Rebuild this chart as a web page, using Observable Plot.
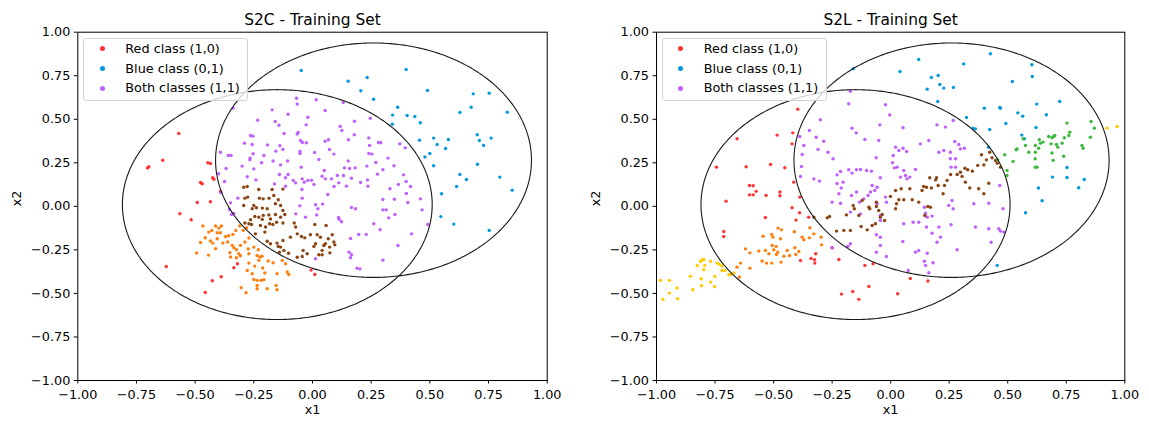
<!DOCTYPE html>
<html>
<head>
<meta charset="utf-8">
<script src="https://cdn.jsdelivr.net/npm/d3@7"></script>
<script src="https://cdn.jsdelivr.net/npm/@observablehq/plot@0.6"></script>
<style>
  html, body { margin: 0; padding: 0; background: #fff; }
  #wrap { position: relative; width: 1149px; height: 423px; overflow: hidden; background: #fff; font-family: "DejaVu Sans", sans-serif; }
  #wrap svg { position: absolute; top: 0; }
  .legend { position: absolute; width: 165px; height: 63px; box-sizing: border-box; border: 1px solid #d4d4d4; border-radius: 3px; background: rgba(255,255,255,0.8); font-size: 12.8px; color: #000; }
  .legend .row { position: absolute; left: 0; height: 16px; line-height: 16px; white-space: nowrap; }
  .legend .mk { position: absolute; left: 15.5px; top: 5.5px; width: 5px; height: 5px; border-radius: 50%; }
  .legend .tx { position: absolute; left: 41px; top: 0; }
</style>
</head>
<body>
<div id="wrap"></div>
<script>
// ---------- DATA ----------
const titles = ["S2C - Training Set", "S2L - Training Set"];
const axisLabels = ["x1", "x2"];
const tickValues = [-1, -0.75, -0.5, -0.25, 0, 0.25, 0.5, 0.75, 1];
const legendLabels = ["Red class (1,0)", "Blue class (0,1)", "Both classes (1,1)"];
const colors = { red: "#ff3333", blue: "#0099dd", purple: "#bf5fff", brown: "#8b4513", orange: "#ff7f0e", green: "#3cb93c", yellow: "#ffc800" };
// decision circles: [cx, cy, r]
const circleParams = [[-0.15, 0.01, 0.66], [0.26, 0.265, 0.673]];

const s2cRed = [[-0.570,0.419],[-0.638,0.265],[-0.697,0.227],[-0.703,0.220],[-0.446,0.250],[-0.435,0.246],[-0.477,0.137],[-0.470,0.130],[-0.425,0.164],[-0.420,0.155],[-0.392,0.087],[-0.491,0.022],[-0.435,0.026],[-0.565,-0.042],[-0.517,-0.077],[-0.623,-0.345],[-0.457,-0.494],[-0.427,-0.427],[-0.389,-0.404],[-0.335,-0.353],[-0.320,-0.330],[-0.006,-0.366],[0.010,-0.391]];

const s2cBlue = [[-0.048,0.780],[0.399,0.786],[0.152,0.719],[0.233,0.740],[0.206,0.664],[0.260,0.615],[0.490,0.665],[0.685,0.646],[0.753,0.650],[0.363,0.569],[0.628,0.539],[0.676,0.569],[0.830,0.541],[0.341,0.524],[0.403,0.522],[0.436,0.516],[0.459,0.480],[0.340,0.472],[0.456,0.380],[0.516,0.392],[0.531,0.355],[0.579,0.384],[0.567,0.332],[0.702,0.411],[0.711,0.378],[0.729,0.350],[0.761,0.392],[0.500,0.304],[0.479,0.283],[0.516,0.233],[0.703,0.242],[0.628,0.183],[0.656,0.154],[0.614,0.114],[0.798,0.168],[0.851,0.093],[0.550,0.072],[0.547,-0.059],[0.602,-0.102],[0.753,-0.138]];

const s2cPurple = [[-0.068,0.621],[-0.065,0.587],[0.016,0.612],[0.131,0.596],[-0.339,0.564],[-0.172,0.554],[-0.104,0.529],[-0.020,0.512],[0.054,0.550],[-0.234,0.495],[-0.159,0.487],[-0.143,0.466],[-0.027,0.468],[0.118,0.459],[0.125,0.436],[0.179,0.489],[0.246,0.506],[-0.121,0.418],[-0.065,0.415],[-0.061,0.424],[0.178,0.411],[-0.264,0.407],[-0.254,0.403],[-0.290,0.363],[-0.257,0.355],[-0.192,0.353],[-0.139,0.348],[-0.051,0.378],[-0.043,0.367],[-0.026,0.365],[0.054,0.374],[0.068,0.382],[0.153,0.382],[0.240,0.393],[0.243,0.349],[0.281,0.367],[0.291,0.365],[0.372,0.359],[0.395,0.336],[-0.392,0.311],[-0.359,0.292],[-0.347,0.292],[-0.253,0.302],[-0.207,0.292],[-0.156,0.317],[-0.126,0.327],[-0.053,0.315],[-0.053,0.304],[0.009,0.309],[0.072,0.327],[0.091,0.300],[0.240,0.304],[0.253,0.300],[-0.266,0.277],[-0.267,0.267],[-0.217,0.250],[-0.168,0.260],[-0.106,0.260],[0.027,0.269],[0.152,0.260],[0.270,0.252],[0.322,0.277],[0.347,0.233],[-0.368,0.217],[-0.300,0.231],[-0.250,0.215],[-0.136,0.238],[-0.048,0.225],[0.050,0.206],[0.136,0.221],[0.158,0.217],[0.182,0.221],[0.232,0.231],[0.300,0.210],[-0.400,0.187],[-0.278,0.170],[-0.241,0.152],[-0.141,0.183],[-0.104,0.183],[-0.115,0.164],[-0.082,0.149],[-0.072,0.135],[-0.044,0.158],[-0.035,0.139],[-0.020,0.149],[-0.004,0.150],[0.006,0.126],[0.041,0.173],[0.055,0.158],[0.081,0.158],[0.106,0.177],[0.132,0.177],[0.166,0.162],[0.205,0.137],[0.234,0.152],[0.236,0.116],[0.277,0.185],[0.388,0.181],[0.399,0.143],[0.418,0.114],[0.330,0.101],[0.366,0.126],[0.400,0.074],[-0.375,0.143],[-0.391,0.080],[-0.162,0.129],[-0.115,0.116],[-0.045,0.097],[0.092,0.114],[0.112,0.135],[0.145,0.116],[-0.318,0.047],[-0.044,0.047],[-0.054,0.003],[0.065,0.068],[0.013,0.009],[0.043,0.013],[0.023,-0.014],[0.166,-0.006],[0.183,-0.014],[0.300,0.039],[0.349,0.041],[0.406,0.022],[0.460,0.043],[0.300,-0.020],[0.314,-0.020],[0.325,-0.066],[0.351,-0.047],[0.467,-0.020],[0.111,-0.064],[0.114,-0.075],[0.018,-0.049],[0.261,-0.100],[0.491,-0.104],[0.422,-0.158],[0.162,-0.184],[0.197,-0.161],[0.229,-0.161],[0.156,-0.263],[0.166,-0.278],[0.364,-0.225],[0.300,-0.309],[0.190,-0.355],[0.202,-0.359],[0.013,-0.301],[-0.345,-0.047],[-0.354,-0.018],[-0.349,0.020],[-0.335,-0.041],[0.162,-0.295],[0.288,-0.134],[0.124,-0.088],[-0.071,-0.043],[-0.030,-0.062]];

const s2cBrown = [[-0.293,0.110],[-0.278,0.114],[-0.288,0.047],[-0.276,0.053],[-0.229,0.097],[-0.226,0.047],[-0.210,0.043],[-0.185,0.047],[-0.165,0.062],[-0.172,0.097],[-0.126,0.099],[-0.146,0.038],[-0.293,0.005],[-0.250,0.005],[-0.257,-0.014],[-0.239,-0.008],[-0.214,-0.010],[-0.193,-0.014],[-0.246,-0.058],[-0.264,-0.077],[-0.271,-0.100],[-0.260,-0.104],[-0.210,-0.052],[-0.186,-0.049],[-0.179,-0.072],[-0.158,-0.047],[-0.136,-0.062],[-0.118,-0.047],[-0.153,-0.091],[-0.169,-0.104],[-0.183,-0.100],[-0.126,-0.096],[-0.288,-0.096],[-0.222,-0.110],[-0.200,-0.119],[-0.203,-0.148],[-0.243,-0.158],[-0.078,-0.096],[-0.072,-0.119],[-0.094,-0.177],[-0.065,-0.158],[-0.047,-0.173],[-0.033,-0.181],[-0.009,-0.163],[0.010,-0.104],[0.058,-0.110],[0.020,-0.163],[0.034,-0.177],[0.055,-0.215],[0.067,-0.186],[0.084,-0.163],[0.091,-0.205],[0.095,-0.221],[0.073,-0.234],[0.048,-0.225],[0.013,-0.215],[0.006,-0.230],[0.027,-0.278],[0.041,-0.253],[-0.040,-0.253],[-0.023,-0.272],[-0.065,-0.292],[-0.044,-0.288],[-0.102,-0.269],[-0.122,-0.253],[-0.136,-0.234],[-0.151,-0.211],[-0.146,-0.230],[-0.193,-0.200],[-0.179,-0.215],[-0.126,-0.196],[-0.141,-0.263],[0.074,-0.267],[0.041,-0.278],[-0.214,-0.075],[-0.229,-0.062],[-0.158,0.015],[-0.136,0.005],[-0.126,-0.024]];

const s2cOrange = [[-0.467,-0.113],[-0.413,-0.113],[-0.399,-0.125],[-0.388,-0.113],[-0.429,-0.138],[-0.442,-0.148],[-0.406,-0.152],[-0.392,-0.152],[-0.457,-0.180],[-0.477,-0.207],[-0.435,-0.199],[-0.425,-0.211],[-0.406,-0.186],[-0.371,-0.173],[-0.357,-0.169],[-0.339,-0.161],[-0.327,-0.138],[-0.310,-0.113],[-0.295,-0.138],[-0.281,-0.123],[-0.494,-0.268],[-0.443,-0.280],[-0.413,-0.243],[-0.382,-0.211],[-0.361,-0.205],[-0.342,-0.224],[-0.335,-0.238],[-0.307,-0.224],[-0.288,-0.205],[-0.271,-0.182],[-0.314,-0.272],[-0.307,-0.284],[-0.324,-0.295],[-0.349,-0.291],[-0.352,-0.266],[-0.324,-0.249],[-0.274,-0.245],[-0.250,-0.234],[-0.231,-0.249],[-0.271,-0.272],[-0.236,-0.282],[-0.224,-0.291],[-0.215,-0.286],[-0.229,-0.310],[-0.271,-0.326],[-0.278,-0.368],[-0.246,-0.343],[-0.212,-0.354],[-0.189,-0.314],[-0.168,-0.324],[-0.203,-0.383],[-0.151,-0.387],[-0.257,-0.387],[-0.250,-0.420],[-0.236,-0.425],[-0.219,-0.425],[-0.207,-0.421],[-0.236,-0.454],[-0.236,-0.473],[-0.193,-0.473],[-0.304,-0.467],[-0.283,-0.496],[-0.155,-0.454],[-0.151,-0.479],[-0.108,-0.377],[-0.101,-0.391],[-0.129,-0.310],[-0.115,-0.330]];

const s2lRed = [[-0.397,0.558],[-0.418,0.422],[-0.421,0.359],[-0.485,0.409],[-0.513,0.241],[-0.617,0.227],[-0.656,0.388],[-0.744,0.225],[-0.703,0.030],[-0.603,0.120],[-0.587,0.118],[-0.603,0.066],[-0.587,0.066],[-0.574,0.086],[-0.532,0.063],[-0.473,0.082],[-0.473,0.061],[-0.414,0.139],[-0.388,0.053],[-0.421,-0.008],[-0.452,0.222],[-0.535,-0.064],[-0.389,-0.037],[-0.404,-0.079],[-0.350,-0.062],[-0.713,-0.144],[-0.713,-0.173],[-0.250,-0.238],[-0.340,-0.299],[-0.325,-0.307],[-0.324,-0.326],[-0.320,-0.272],[-0.385,-0.311],[-0.221,-0.305],[-0.110,-0.339],[-0.093,-0.460],[-0.210,-0.504],[-0.162,-0.489],[-0.136,-0.534],[-0.075,-0.330],[0.084,-0.414],[0.159,-0.429],[0.030,-0.502]];

const s2lBlue = [[0.120,0.843],[0.040,0.774],[0.174,0.740],[0.203,0.751],[0.210,0.700],[0.227,0.679],[0.268,0.683],[0.156,0.673],[0.201,0.602],[0.312,0.818],[0.426,0.876],[0.603,0.813],[0.605,0.746],[0.520,0.717],[0.400,0.564],[0.466,0.568],[0.469,0.564],[0.543,0.537],[0.564,0.518],[0.624,0.587],[0.722,0.602],[0.665,0.526],[0.324,0.510],[0.352,0.449],[0.362,0.445],[0.423,0.441],[0.492,0.476],[0.621,0.453],[0.560,0.409],[0.571,0.388],[0.418,0.340],[0.753,0.223],[0.691,0.168],[0.753,0.166],[0.827,0.154],[0.803,0.107],[0.631,0.105],[0.647,0.032],[0.576,-0.037],[0.455,-0.339],[-0.160,0.790]];

const s2lPurple = [[-0.172,0.661],[-0.179,0.589],[-0.022,0.583],[-0.004,0.525],[-0.300,0.497],[-0.347,0.436],[-0.165,0.449],[-0.147,0.422],[-0.318,0.397],[-0.286,0.374],[-0.110,0.384],[-0.051,0.378],[-0.046,0.468],[0.053,0.451],[0.198,0.468],[0.234,0.455],[0.267,0.493],[0.163,0.378],[0.127,0.359],[0.274,0.372],[0.291,0.355],[0.298,0.330],[0.315,0.334],[-0.371,0.349],[-0.310,0.327],[-0.268,0.311],[-0.246,0.273],[0.021,0.340],[0.035,0.321],[0.053,0.334],[0.068,0.315],[0.011,0.292],[0.008,0.250],[0.028,0.225],[0.016,0.221],[0.056,0.206],[0.042,0.168],[0.070,0.158],[0.063,0.177],[0.082,0.168],[0.106,0.212],[0.255,0.311],[0.277,0.273],[0.255,0.273],[0.258,0.225],[0.277,0.225],[0.206,0.311],[0.227,0.321],[-0.378,0.298],[-0.381,0.229],[-0.385,0.171],[-0.328,0.158],[-0.304,0.145],[-0.214,0.200],[-0.229,0.181],[-0.179,0.210],[-0.165,0.191],[-0.146,0.210],[-0.129,0.212],[-0.103,0.206],[-0.082,0.202],[-0.062,0.279],[-0.044,0.164],[-0.079,0.120],[-0.058,0.110],[-0.068,0.091],[-0.086,0.082],[-0.096,0.062],[-0.115,0.043],[-0.146,0.082],[-0.167,0.062],[-0.211,0.106],[-0.221,0.072],[-0.250,0.024],[-0.214,0.018],[-0.172,-0.033],[-0.133,0.024],[-0.058,0.015],[-0.044,-0.052],[-0.129,-0.043],[-0.022,0.053],[-0.018,0.024],[-0.044,-0.081],[0.056,-0.100],[0.096,-0.091],[0.120,-0.091],[0.149,-0.039],[0.156,-0.062],[0.144,-0.005],[0.153,-0.119],[0.177,-0.056],[0.177,-0.154],[0.213,-0.177],[0.206,-0.119],[0.258,-0.106],[0.262,0.034],[0.248,0.005],[0.267,-0.014],[0.355,0.015],[0.419,0.018],[0.362,-0.119],[0.419,-0.129],[0.462,-0.129],[0.469,-0.142],[0.466,0.120],[0.483,-0.148],[0.429,-0.206],[0.284,-0.249],[0.198,-0.206],[0.106,-0.263],[0.120,-0.253],[0.156,-0.269],[0.144,-0.315],[0.149,-0.339],[0.163,-0.381],[0.181,-0.324],[0.075,-0.368],[0.052,-0.202],[-0.061,-0.263],[-0.044,-0.225],[-0.044,-0.177],[-0.061,-0.163],[-0.250,-0.238],[-0.172,-0.215],[-0.183,-0.230],[0.480,-0.014],[-0.018,-0.288],[-0.388,0.401],[-0.203,0.139],[-0.229,0.131]];

const s2lBrown = [[-0.328,-0.062],[-0.271,-0.066],[-0.261,-0.058],[-0.231,-0.142],[-0.200,-0.138],[-0.172,-0.138],[-0.189,-0.049],[-0.160,0.005],[-0.155,-0.014],[-0.136,-0.052],[-0.122,0.034],[-0.126,-0.116],[-0.100,-0.135],[-0.093,-0.005],[-0.089,-0.014],[-0.079,-0.110],[-0.065,-0.100],[-0.061,0.024],[-0.061,-0.001],[-0.051,-0.024],[-0.044,-0.062],[-0.036,-0.047],[-0.026,-0.081],[-0.001,0.057],[0.021,0.091],[0.025,0.015],[0.035,0.038],[0.045,0.101],[0.056,0.038],[0.082,0.101],[0.092,0.038],[0.120,0.024],[0.134,0.091],[0.141,0.114],[0.153,0.110],[0.159,-0.001],[0.170,-0.005],[0.167,0.164],[0.174,0.106],[0.192,0.152],[0.196,0.164],[0.203,0.120],[0.224,0.072],[0.230,0.120],[0.241,0.149],[0.256,0.183],[0.284,0.183],[0.298,0.196],[0.305,0.172],[0.317,0.219],[0.329,0.210],[0.319,0.139],[0.338,0.106],[0.349,0.202],[0.372,0.235],[0.376,0.101],[0.388,0.296],[0.398,0.238],[0.398,0.072],[0.409,0.267],[0.419,0.133],[0.423,0.311],[0.433,0.279],[0.448,0.263],[0.455,0.248],[0.469,0.225],[0.021,-0.014],[0.146,-0.052]];

const s2lOrange = [[-0.646,-0.406],[-0.656,-0.349],[-0.641,-0.326],[-0.620,-0.244],[-0.601,-0.267],[-0.601,-0.355],[-0.563,-0.257],[-0.545,-0.171],[-0.549,-0.314],[-0.530,-0.326],[-0.535,-0.253],[-0.520,-0.272],[-0.508,-0.161],[-0.503,-0.177],[-0.506,-0.225],[-0.499,-0.249],[-0.489,-0.230],[-0.482,-0.263],[-0.488,-0.276],[-0.508,-0.326],[-0.470,-0.186],[-0.468,-0.320],[-0.481,-0.125],[-0.466,-0.135],[-0.456,-0.286],[-0.442,-0.253],[-0.432,-0.282],[-0.409,-0.238],[-0.405,-0.276],[-0.411,-0.146],[-0.392,-0.259],[-0.378,-0.177],[-0.371,-0.192],[-0.347,-0.181],[-0.345,-0.123],[-0.328,-0.158],[-0.297,-0.177],[-0.295,-0.221]];

const s2lGreen = [[0.753,0.478],[0.765,0.426],[0.761,0.407],[0.742,0.394],[0.701,0.407],[0.689,0.394],[0.696,0.401],[0.675,0.401],[0.685,0.359],[0.708,0.355],[0.732,0.363],[0.714,0.340],[0.635,0.382],[0.640,0.363],[0.632,0.334],[0.651,0.369],[0.618,0.350],[0.618,0.311],[0.576,0.350],[0.566,0.388],[0.590,0.311],[0.536,0.325],[0.540,0.330],[0.487,0.296],[0.523,0.258],[0.617,0.273],[0.618,0.225],[0.625,0.225],[0.689,0.306],[0.694,0.264],[0.739,0.288],[0.817,0.350],[0.822,0.334],[0.853,0.397],[0.856,0.487],[0.870,0.449],[0.497,0.206],[0.497,0.177],[0.457,0.267]];

const s2lYellow = [[-0.983,-0.425],[-0.973,-0.534],[-0.945,-0.425],[-0.945,-0.498],[-0.912,-0.469],[-0.910,-0.531],[-0.855,-0.402],[-0.845,-0.479],[-0.826,-0.339],[-0.812,-0.316],[-0.805,-0.307],[-0.798,-0.307],[-0.809,-0.416],[-0.808,-0.456],[-0.798,-0.364],[-0.794,-0.339],[-0.769,-0.316],[-0.769,-0.435],[-0.752,-0.460],[-0.751,-0.402],[-0.741,-0.326],[-0.731,-0.333],[-0.720,-0.343],[-0.720,-0.368],[-0.708,-0.368],[-0.691,-0.391],[-0.684,-0.391],[-0.670,-0.383],[0.924,0.449],[0.967,0.459]];

// ---------- DRAWING ----------
const fmt = d3.format(".2f");
const circleOutline = circleParams.flatMap(([cx, cy, r], id) =>
  d3.range(0, 361).map(a => ({id, x: cx + r * Math.cos(a * Math.PI / 180), y: cy + r * Math.sin(a * Math.PI / 180)})));

function panel(title, width, ml, mr, series) {
  return Plot.plot({
    width, height: 423,
    marginLeft: ml, marginRight: mr, marginTop: 31.7, marginBottom: 43,
    x: {domain: [-1, 1]},
    y: {domain: [-1, 1]},
    style: {fontFamily: "'DejaVu Sans', sans-serif", fontSize: "12.8px", color: "#000", background: "transparent", overflow: "visible"},
    marks: [
      ...series.map(([data, color]) => Plot.dot(data, {x: d => d[0], y: d => d[1], r: 1.7, fill: color})),
      Plot.line(circleOutline, {x: "x", y: "y", z: "id", stroke: "#1a1a1a", strokeWidth: 1.1}),
      Plot.frame({stroke: "#000", strokeWidth: 1}),
      Plot.axisX(tickValues, {tickFormat: fmt, tickSize: 3.5, tickPadding: 6, label: null, stroke: "#000"}),
      Plot.axisY(tickValues, {tickFormat: fmt, tickSize: 3.5, tickPadding: 4, label: null, stroke: "#000"}),
      Plot.text([title], {text: d => d, frameAnchor: "top", dy: -18, fontSize: 15.4, fill: "#000"}),
      Plot.text([axisLabels[0]], {text: d => d, frameAnchor: "bottom", dy: 33, fill: "#000"}),
      Plot.text([axisLabels[1]], {text: d => d, frameAnchor: "left", dx: -61, rotate: -90, fill: "#000"})
    ]
  });
}

const wrap = document.getElementById("wrap");
const left = panel(titles[0], 570, 77.3, 23.3, [
  [s2cRed, colors.red], [s2cBlue, colors.blue], [s2cPurple, colors.purple],
  [s2cBrown, colors.brown], [s2cOrange, colors.orange]
]);
left.style.left = "0px";
wrap.appendChild(left);

const right = panel(titles[1], 579, 86, 24.7, [
  [s2lRed, colors.red], [s2lBlue, colors.blue], [s2lPurple, colors.purple],
  [s2lBrown, colors.brown], [s2lOrange, colors.orange], [s2lGreen, colors.green], [s2lYellow, colors.yellow]
]);
right.style.left = "570px";
wrap.appendChild(right);

// legends
const legendColors = [colors.red, colors.blue, colors.purple];
[[83.3, 37.7], [661.7, 37.7]].forEach(([lx, ly]) => {
  const box = document.createElement("div");
  box.className = "legend";
  box.style.left = lx + "px";
  box.style.top = ly + "px";
  legendLabels.forEach((lab, i) => {
    const row = document.createElement("div");
    row.className = "row";
    row.style.top = (2.2 + i * 19.8) + "px";
    row.innerHTML = `<span class="mk" style="background:${legendColors[i]}"></span><span class="tx"></span>`;
    row.querySelector(".tx").textContent = lab;
    box.appendChild(row);
  });
  wrap.appendChild(box);
});
</script>
</body>
</html>
